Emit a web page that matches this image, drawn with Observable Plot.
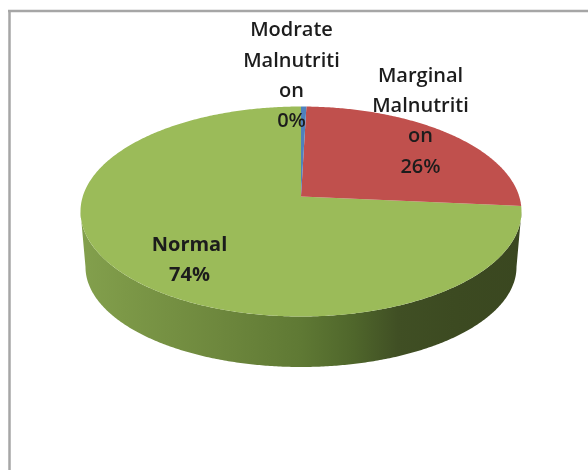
<!DOCTYPE html>
<html>
<head>
<meta charset="utf-8">
<script src="https://cdn.jsdelivr.net/npm/d3@7"></script>
<script src="https://cdn.jsdelivr.net/npm/@observablehq/plot@0.6"></script>
<style>
html,body{margin:0;padding:0;background:#fff;overflow:hidden}
svg{display:block;filter:blur(0.6px)}
</style>
</head>
<body>
<div id="chart"></div>
<script>
// Data
const categories = ["Modrate\nMalnutriti\non", "Marginal\nMalnutriti\non", "Normal"];
const values = [0.45, 26, 73.55];
const colors = ["#4f81bd", "#c0504d", "#9bbb59"];

// Layout (separate from the data)
const labelX = [291, 420, 189];
const labelY = [71.5, 117, 256];
const labelWeight = [600, 600, 700];
const W = 588, H = 470;
const top3d = {cx: 300.5, cy: 211, rx: 220.5, ry: 105};
const bottom3d = {cx: 300.5, cy: 266.5, rx: 215.5, ry: 100};
const tilt = 15 / 105;   // perspective shift of the pie centre in the ellipse

// A point on the pie disc (r, angle clockwise from 12 o'clock) in perspective
function project(r, a, e = top3d) {
  const u = r * Math.sin(a), v = r * Math.cos(a);
  const d = 1 + tilt * v;
  return [
    e.cx + e.rx * u * Math.sqrt(1 - tilt * tilt) / d,
    e.cy - e.ry * (v + tilt) / d
  ];
}
const pie = d3.pie().sort(null).value(d => d)(values);
const arcSteps = (a0, a1) => {
  const n = Math.max(2, Math.ceil((a1 - a0) / 0.01));
  return d3.range(n + 1).map(i => a0 + (a1 - a0) * i / n);
};
const sliceRings = pie.map(p => [
  project(0, 0),
  ...arcSteps(p.startAngle, p.endAngle).map(a => project(1, a))
]);

// Wall: the front half of the top ellipse and, reversed, of the lower one
const front = arcSteps(Math.PI / 2, 3 * Math.PI / 2);
const ell = (e, a) => [e.cx + e.rx * Math.sin(a), e.cy - e.ry * Math.cos(a)];
const wall = [
  ...front.map(a => ell(top3d, a)),
  ...front.slice().reverse().map(a => ell(bottom3d, a))
];

const gradientStops = [
  [0, "#83a04d"], [0.1, "#7c9847"], [0.32, "#6d873d"], [0.5, "#5f7934"],
  [0.62, "#4f662b"], [0.72, "#404f24"], [0.85, "#3c4a21"], [1, "#3a4720"]
];
const gradientDefs = () => {
  const defs = d3.create("svg:defs");
  const g = defs.append("linearGradient").attr("id", "wallGrad")
    .attr("x1", 0).attr("x2", 1).attr("y1", 0).attr("y2", 0);
  gradientStops.forEach(([o, c]) =>
    g.append("stop").attr("offset", o).attr("stop-color", c));
  return defs.node();
};

const labels = pie.map((p, i) => ({
  text: categories[i] + "\n" + Math.round(values[i]) + "%",
  x: labelX[i], y: labelY[i], weight: labelWeight[i]
}));

const frameColor = "#a6a6a6";
const chart = Plot.plot({
  width: W, height: H,
  margin: 0,
  x: {domain: [0, W], range: [0, W], axis: null},
  y: {domain: [0, H], range: [0, H], axis: null},
  marks: [
    gradientDefs,
    Plot.ruleX([9], {y1: 10, y2: H, stroke: frameColor, strokeWidth: 2.5}),
    Plot.ruleY([10.5], {x1: 8, x2: W, stroke: frameColor, strokeWidth: 2.5}),
    Plot.line(wall, {x: d => d[0], y: d => d[1], fill: "url(#wallGrad)", stroke: null}),
    ...[2, 1, 0].map(i =>
      Plot.line(sliceRings[i], {x: d => d[0], y: d => d[1], fill: colors[i], stroke: null})
    ),
    ...labels.map(l =>
      Plot.text([l], {
        x: "x", y: "y", text: "text",
        fontFamily: "'Open Sans', sans-serif",
        fontSize: 20, lineHeight: 1.52, fontWeight: l.weight,
        fill: "#1c1c1c", textAnchor: "middle", lineAnchor: "middle"
      })
    )
  ]
});
document.getElementById("chart").append(chart);
</script>
</body>
</html>
